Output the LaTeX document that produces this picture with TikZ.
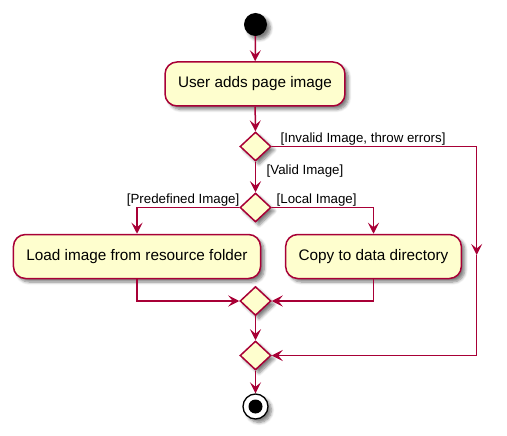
\documentclass[tikz,border=0pt]{standalone}
\usepackage{fontspec}
\setmainfont{Liberation Sans}
\usepackage{tikz}
\usetikzlibrary{shapes.geometric}
\usetikzlibrary{arrows.meta}
\usetikzlibrary{shadows.blur}

\definecolor{umlred}{HTML}{A80036}
\definecolor{umlfill}{HTML}{FEFECE}

\tikzset{
    dropshade/.style={blur shadow={shadow xshift=3.5pt, shadow yshift=-3.5pt, shadow blur radius=3pt, shadow blur steps=6, shadow opacity=50}},
    activity/.style={draw=umlred, fill=umlfill, line width=1.5pt, rounded corners=12pt, minimum height=44pt, inner xsep=13pt, font=\fontsize{15.3}{18}\selectfont, dropshade},
    branch/.style={diamond, draw=umlred, fill=umlfill, line width=1.5pt, inner sep=0pt, minimum width=31pt, minimum height=29pt, dropshade},
    guard/.style={inner sep=0pt, font=\fontsize{13.3}{16}\selectfont},
    flow/.style={draw=umlred, line width=1.5pt, -{Stealth[length=11pt, width=11pt, inset=4.5pt]}},
}

\begin{document}
\begin{tikzpicture}[x=1pt, y=-1pt]
    \useasboundingbox (0, 0) rectangle (507, 436);
    \node[circle, fill=black, minimum size=23pt, inner sep=0pt, dropshade] (start) at (255.5, 24.5) {};
    \node[activity] (adds) at (255, 84) {User adds page image};
    \node[branch] (valid) at (255.5, 146.5) {};
    \node[branch] (source) at (255.5, 207.5) {};
    \node[activity] (load) at (137, 256.5) {Load image from resource folder};
    \node[activity] (copy) at (373.5, 256.5) {Copy to data directory};
    \node[branch] (joinsrc) at (255.5, 301) {};
    \node[branch] (joinall) at (255.5, 355.5) {};
    \node[circle, draw=black, fill=white, line width=1.3pt, minimum size=25pt, inner sep=0pt, dropshade] (stop) at (255.5, 406.5) {};
    \node[circle, fill=black, minimum size=14pt, inner sep=0pt] (stopdot) at (stop) {};
    \coordinate (errdown) at (476.7, 255);

    \node[guard, anchor=west] (invalid) at (280.5, 139) {[Invalid Image, throw errors]};
    \node[guard, anchor=west] (validimg) at (266.5, 171.5) {[Valid Image]};
    \node[guard, anchor=east] (predef) at (239.5, 200) {[Predefined Image]};
    \node[guard, anchor=west] (local) at (276.5, 200) {[Local Image]};

    \draw[flow] (start) -- (adds);
    \draw[flow] (adds) -- (valid);
    \draw[flow] (valid.east) -| (errdown);
    \draw[flow] (errdown) |- (joinall.east);
    \draw[flow] (valid) -- (source);
    \draw[flow] (source.west) -| (load.north);
    \draw[flow] (source.east) -| (copy.north);
    \draw[flow] (load.south) |- (joinsrc.west);
    \draw[flow] (copy.south) |- (joinsrc.east);
    \draw[flow] (joinsrc) -- (joinall);
    \draw[flow] (joinall) -- (stop);
\end{tikzpicture}
\end{document}
